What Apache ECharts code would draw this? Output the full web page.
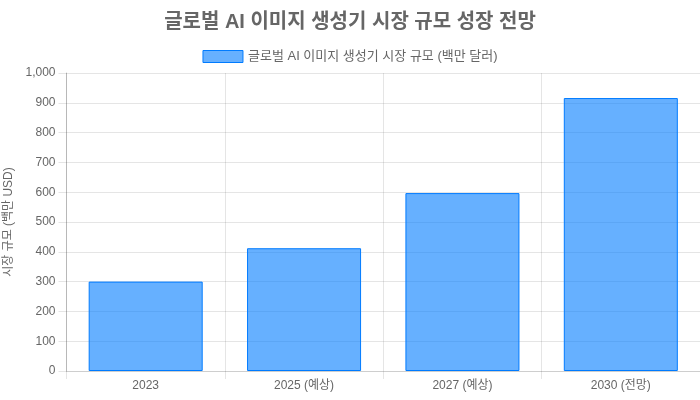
<!DOCTYPE html>
<html lang="ko">
<head>
  <meta charset="utf-8">
  <title>글로벌 AI 이미지 생성기 시장 규모 성장 전망</title>
  <style>
    html, body { margin: 0; padding: 0; background: #fff; }
    #chart1 { width: 700px; height: 400px; }
  </style>
</head>
<body>

<script src="https://cdn.jsdelivr.net/npm/echarts@6/dist/echarts.min.js"></script>

<div id="chart1"></div>

<script>
  // data
  var categories = ['2023', '2025 (예상)', '2027 (예상)', '2030 (전망)'];
  var marketSize = [300, 412, 597, 916];
  var seriesName = '글로벌 AI 이미지 생성기 시장 규모 (백만 달러)';

  var fontStack = "'Liberation Sans', Arial, 'Noto Sans CJK KR', sans-serif";
  var gridColor = 'rgba(0,0,0,0.1)';

  var chart1 = echarts.init(document.getElementById('chart1'));

  var option = {
    animation: false,
    textStyle: { fontFamily: fontStack },
    title: {
      text: '글로벌 AI 이미지 생성기 시장 규모 성장 전망',
      left: 'center',
      top: 7,
      textStyle: { fontSize: 20, fontWeight: 'bold', color: '#666', fontFamily: fontStack }
    },
    legend: {
      top: 45,
      left: 'center',
      itemWidth: 40,
      itemHeight: 12,
      itemGap: 10,
      icon: 'rect',
      itemStyle: { borderWidth: 1 },
      textStyle: { fontSize: 13, color: '#666', fontFamily: fontStack }
    },
    grid: {
      left: 66.5,
      right: 0,
      top: 73,
      bottom: 29,
      outerBoundsMode: 'none',
      containLabel: false
    },
    xAxis: {
      type: 'category',
      data: categories,
      axisLine: { show: true, lineStyle: { color: gridColor } },
      axisTick: { show: true, length: 8, lineStyle: { color: gridColor } },
      splitLine: { show: true, lineStyle: { color: gridColor } },
      axisLabel: { color: '#666', fontSize: 12, margin: 9, fontFamily: fontStack }
    },
    yAxis: {
      type: 'value',
      min: 0,
      max: 1000,
      interval: 100,
      name: '시장 규모 (백만 USD)',
      nameLocation: 'middle',
      nameGap: 48,
      nameTextStyle: { color: '#666', fontSize: 12, fontFamily: fontStack },
      axisLine: { show: true, lineStyle: { color: 'rgba(0,0,0,0.2)' } },
      axisTick: { show: true, length: 8, lineStyle: { color: gridColor } },
      splitLine: { show: true, lineStyle: { color: gridColor } },
      axisLabel: {
        color: '#666',
        fontSize: 12,
        margin: 11,
        fontFamily: fontStack,
        formatter: function (v) { return v.toLocaleString('en-US'); }
      }
    },
    series: [
      {
        name: seriesName,
        type: 'bar',
        data: marketSize,
        barWidth: '72%',
        itemStyle: {
          color: 'rgba(0,123,255,0.6)',
          borderColor: 'rgba(0,123,255,1)',
          borderWidth: 1
        }
      }
    ]
  };
  chart1.setOption(option);
</script>

</body>
</html>
